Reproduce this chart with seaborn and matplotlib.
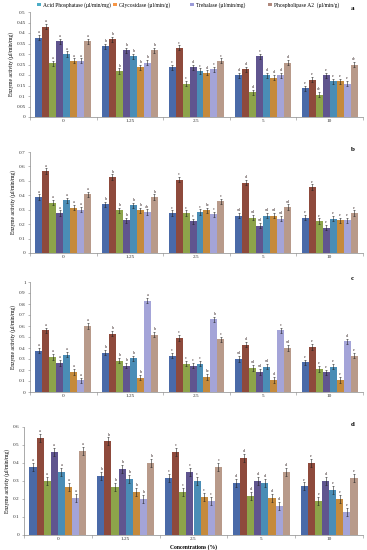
import numpy as np
import pandas as pd
import seaborn as sns
import matplotlib.pyplot as plt
from matplotlib.patches import Patch

concentrations = ["0", "1.25", "2.5", "5", "10"]
series = ["S1", "S2", "S3", "S4", "S5", "S6", "S7", "S8"]
palette = ["#4A6AA8", "#8E4A3C", "#8DA44A", "#60558F", "#4A8DB6", "#C58A3C", "#A4A4D8", "#B89A8A"]

legend_labels = ["Acid Phosphatase (\u00b5l/min/mg)", "Glycosidase (\u00b5l/min/g)",
                 "Trehalase (\u00b5l/min/mg)", "Phospholipase A2  (\u00b5l/min/g)"]
legend_colors = ["#4BACC6", "#F79646", "#9A9AD8", "#B0887C"]
legend_x = [35, 111, 188, 266]

# rows = concentration groups, columns = the 8 bars of a group
vals_a = [[0.378, 0.430, 0.257, 0.360, 0.300, 0.267, 0.267, 0.360],
          [0.338, 0.370, 0.219, 0.317, 0.289, 0.238, 0.259, 0.317],
          [0.238, 0.329, 0.159, 0.238, 0.219, 0.210, 0.227, 0.267],
          [0.198, 0.227, 0.117, 0.289, 0.198, 0.187, 0.198, 0.259],
          [0.138, 0.178, 0.106, 0.198, 0.170, 0.170, 0.159, 0.249]]
vals_b = [[0.388, 0.568, 0.349, 0.277, 0.365, 0.314, 0.300, 0.406],
          [0.337, 0.527, 0.296, 0.226, 0.330, 0.296, 0.284, 0.388],
          [0.277, 0.508, 0.277, 0.219, 0.284, 0.296, 0.268, 0.358],
          [0.259, 0.487, 0.245, 0.189, 0.259, 0.259, 0.238, 0.319],
          [0.245, 0.457, 0.222, 0.175, 0.238, 0.226, 0.226, 0.277]]
vals_c = [[0.376, 0.560, 0.318, 0.264, 0.339, 0.182, 0.106, 0.600],
          [0.358, 0.530, 0.285, 0.239, 0.306, 0.130, 0.830, 0.521],
          [0.330, 0.490, 0.258, 0.239, 0.258, 0.136, 0.660, 0.479],
          [0.300, 0.430, 0.218, 0.182, 0.230, 0.109, 0.560, 0.400],
          [0.270, 0.410, 0.209, 0.179, 0.230, 0.109, 0.460, 0.330]]
vals_d = [[0.380, 0.540, 0.299, 0.461, 0.349, 0.268, 0.208, 0.469],
          [0.330, 0.520, 0.268, 0.369, 0.310, 0.238, 0.199, 0.400],
          [0.319, 0.461, 0.238, 0.350, 0.300, 0.210, 0.188, 0.380],
          [0.290, 0.430, 0.216, 0.300, 0.290, 0.208, 0.160, 0.350],
          [0.270, 0.400, 0.190, 0.300, 0.249, 0.199, 0.129, 0.319]]

letters_a = [["a"] * 8, ["b"] * 8,
             ["c", "c", "c", "d", "c", "d", "c", "c"],
             ["d", "d", "d", "c", "d", "d", "d", "d"],
             ["e", "e", "de", "e", "e", "e", "e", "de"]]
letters_b = [["a"] * 8,
             ["b", "b", "b", "b", "b", "b", "ab", "b"],
             ["c", "c", "c", "c", "c", "bc", "c", "c"],
             ["cd", "d", "cd", "cd", "cd", "cd", "cd", "cd"],
             ["e"] * 8]
letters_c = [["a"] * 8,
             ["b", "b", "b", "b", "b", "b", "a", "b"],
             ["c", "c", "c", "c", "c", "bc", "b", "c"],
             ["cd", "d", "cd", "cd", "cd", "d", "c", "cd"],
             ["e", "e", "e", "e", "e", "e", "d", "e"]]
letters_d = [["a"] * 8, ["b"] * 8, ["c"] * 8, ["d"] * 8,
             ["e", "e", "e", "d", "e", "e", "e", "e"]]

errs = {"a": 0.012, "b": 0.018, "c": 0.025, "d": 0.022}

panels = [("a", vals_a, letters_a, 0.5, 0.05, [30, 12, 363, 117]),
          ("b", vals_b, letters_b, 0.7, 0.1, [30, 152, 363, 253]),
          ("c", vals_c, letters_c, 1.0, 0.1, [30, 282, 363, 392]),
          ("d", vals_d, letters_d, 0.6, 0.1, [24, 427, 363, 535])]

W, H = 367, 550
plt.rcParams["font.family"] = ["Liberation Serif", "DejaVu Serif"]
fig = plt.figure(figsize=(W / 100, H / 100), dpi=100)

for name, vals, letters, ymax, step, box in panels:
    x0, y0, x1, y1 = box
    ax = fig.add_axes([x0 / W, 1 - y1 / H, (x1 - x0) / W, (y1 - y0) / H])
    df = pd.DataFrame(vals, columns=series)
    df["conc"] = concentrations
    long = df.melt(id_vars="conc", var_name="series", value_name="activity")
    sns.barplot(data=long, x="conc", y="activity", hue="series", palette=palette,
                order=concentrations, hue_order=series, errorbar=None, width=0.84,
                saturation=1, linewidth=0, legend=False, ax=ax)
    err = errs[name]
    bar_sets = list(ax.containers)  # copy before errorbars add more containers
    for i, cont in enumerate(bar_sets):
        for j, bar in enumerate(cont.patches):
            xc = bar.get_x() + bar.get_width() / 2
            h = bar.get_height()
            ax.errorbar(xc, h, yerr=err, fmt="none", ecolor="#222222",
                        elinewidth=0.4, capsize=0.9, capthick=0.4)
            ax.text(xc, h + err + ymax * 0.008, letters[j][i], ha="center", va="bottom",
                    fontsize=3.2, color="#3a2a2a")
    ax.set_ylim(0, ymax)
    ax.set_yticks(np.round(np.arange(0, ymax + step / 2, step), 2))
    ax.yaxis.set_major_formatter(plt.FormatStrFormatter("%g"))
    ax.set_xlim(-0.5, 4.5)
    ax.set_xticks(np.arange(5))
    ax.set_xticks(np.arange(-0.5, 5, 1), minor=True)
    ax.tick_params(axis="both", labelsize=3.8, pad=1.5, colors="#333333")
    ax.tick_params(axis="x", which="major", length=0)
    ax.tick_params(axis="x", which="minor", length=2, width=0.4, color="#888888")
    ax.tick_params(axis="y", length=1.5, width=0.4, color="#888888")
    for s in ["top", "right"]:
        ax.spines[s].set_visible(False)
    for s in ["left", "bottom"]:
        ax.spines[s].set_color("#888888")
        ax.spines[s].set_linewidth(0.5)
    ax.set_ylabel("Enzyme activity (\u00b5l/min/mg)", fontsize=4, labelpad=2)
    if name == "d":
        ax.set_xlabel("Concentrations (%)", fontsize=4, fontweight="bold", labelpad=1)
    else:
        ax.set_xlabel("")
    fig.text((x1 - 12) / W, 1 - (y0 - 3) / H, name, fontsize=5, fontweight="bold",
             ha="left", va="center")

# legend entries placed one by one, as in the reference
for lab, col, lx in zip(legend_labels, legend_colors, legend_x):
    fig.legend([Patch(facecolor=col, edgecolor="none")], [lab], loc="upper left",
               bbox_to_anchor=(lx / W, 1.0), fontsize=4, frameon=False,
               handlelength=0.6, handleheight=0.6, handletextpad=0.4,
               borderaxespad=0.2, borderpad=0.2)

fig.savefig("out.png", dpi=100, facecolor="white")
